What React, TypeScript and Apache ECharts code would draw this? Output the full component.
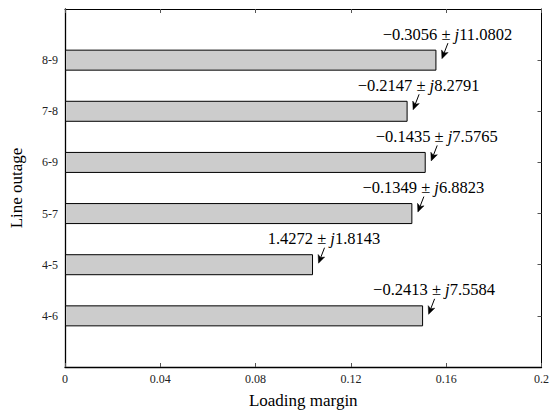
import React, { useEffect, useRef } from "react";
import * as echarts from "echarts";

// categories from bottom to top (empty slots at both ends)
const categories = ["", "4-6", "4-5", "5-7", "6-9", "7-8", "8-9", ""];
const margins = [null, 0.1503, 0.1041, 0.1458, 0.1514, 0.1438, 0.1559, null];
const realParts = ["", "−0.2413", "1.4272", "−0.1349", "−0.1435", "−0.2147", "−0.3056", ""];
const imagParts = ["", "7.5584", "1.8143", "6.8823", "7.5765", "8.2791", "11.0802", ""];
const xTicks = { min: 0, max: 0.2, interval: 0.04 };

const FONT = "Liberation Serif";

export default function App() {
  const ref = useRef<HTMLDivElement>(null);
  useEffect(() => {
    document.body.style.margin = "0";
    const chart = echarts.init(ref.current!, null, { renderer: "svg" });
    const barData = margins.map((v) =>
      v == null ? "-" : { value: v, label: { show: true } }
    );
    const arrowData: number[][] = [];
    margins.forEach((v, i) => {
      if (v != null) arrowData.push([v, i]);
    });
    const option: any = {
      animation: false,
      textStyle: { fontFamily: FONT },
      grid: { left: 64, right: 9, top: 9, bottom: 40, containLabel: false },
      xAxis: [
        {
          type: "value",
          position: "bottom",
          min: xTicks.min,
          max: xTicks.max,
          interval: xTicks.interval,
          name: "Loading margin",
          nameLocation: "middle",
          nameGap: 25,
          nameTextStyle: { fontFamily: FONT, fontSize: 17, color: "#000", verticalAlign: "top" },
          axisLine: { show: true, onZero: false, lineStyle: { color: "#000", width: 1.3 } },
          axisTick: { show: true, inside: true, length: 4, lineStyle: { color: "#555" } },
          axisLabel: {
            fontFamily: FONT,
            fontSize: 12,
            color: "#222",
            margin: 6,
            formatter: (v: number) => String(+v.toFixed(2)),
          },
          splitLine: { show: false },
        },
        {
          type: "value",
          position: "top",
          min: xTicks.min,
          max: xTicks.max,
          interval: xTicks.interval,
          axisLine: { show: true, onZero: false, lineStyle: { color: "#000", width: 1 } },
          axisTick: { show: true, inside: true, length: 4, lineStyle: { color: "#555" } },
          axisLabel: { show: false },
          splitLine: { show: false },
        },
      ],
      yAxis: [
        {
          type: "category",
          position: "left",
          data: categories,
          boundaryGap: false,
          name: "Line outage",
          nameLocation: "middle",
          nameRotate: 90,
          nameGap: 40,
          nameTextStyle: { fontFamily: FONT, fontSize: 17, color: "#000" },
          axisLine: { show: true, onZero: false, lineStyle: { color: "#000", width: 1.3 } },
          axisTick: {
            show: true,
            inside: true,
            length: 4,
            interval: (i: number) => i >= 1 && i <= 6,
            lineStyle: { color: "#555" },
          },
          axisLabel: {
            fontFamily: FONT,
            fontSize: 12,
            color: "#222",
            margin: 7,
            interval: 0,
          },
          splitLine: { show: false },
        },
        {
          type: "category",
          position: "right",
          data: categories,
          boundaryGap: false,
          axisLine: { show: true, onZero: false, lineStyle: { color: "#000", width: 1 } },
          axisTick: {
            show: true,
            inside: true,
            length: 4,
            interval: (i: number) => i >= 1 && i <= 6,
            lineStyle: { color: "#555" },
          },
          axisLabel: { show: false },
          splitLine: { show: false },
        },
      ],
      series: [
        {
          type: "bar",
          xAxisIndex: 0,
          yAxisIndex: 0,
          barWidth: 21,
          data: barData,
          itemStyle: { color: "#cccccc", borderColor: "#000", borderWidth: 1 },
          label: {
            show: false,
            position: ["100%", "50%"],
            offset: [11, -26],
            align: "center",
            verticalAlign: "middle",
            fontFamily: FONT,
            fontSize: 16.5,
            color: "#000",
            formatter: (p: any) =>
              `${realParts[p.dataIndex]} ± {j|j}${imagParts[p.dataIndex]}`,
            rich: {
              j: { fontFamily: FONT, fontSize: 16.5, fontStyle: "italic", color: "#000" },
            },
          },
          z: 3,
        },
        {
          type: "custom",
          xAxisIndex: 0,
          yAxisIndex: 0,
          data: arrowData,
          z: 4,
          renderItem: (params: any, api: any) => {
            const p = api.coord([api.value(0), api.value(1)]);
            const S = [p[0] + 11.5, p[1] - 17];
            const T = [p[0] + 5.5, p[1] - 1.5];
            const dx = T[0] - S[0];
            const dy = T[1] - S[1];
            const L = Math.sqrt(dx * dx + dy * dy);
            const ux = dx / L;
            const uy = dy / L;
            const nx = -uy;
            const ny = ux;
            const B = [T[0] - 8 * ux, T[1] - 8 * uy];
            const N = [T[0] - 6 * ux, T[1] - 6 * uy];
            return {
              type: "group",
              children: [
                {
                  type: "line",
                  shape: { x1: S[0], y1: S[1], x2: N[0], y2: N[1] },
                  style: { stroke: "#000", lineWidth: 1 },
                },
                {
                  type: "polygon",
                  shape: {
                    points: [
                      T,
                      [B[0] + 3.5 * nx, B[1] + 3.5 * ny],
                      N,
                      [B[0] - 3.5 * nx, B[1] - 3.5 * ny],
                    ],
                  },
                  style: { fill: "#000", stroke: "#000", lineWidth: 0.5 },
                },
              ],
            };
          },
        },
      ],
    };
    chart.setOption(option);
    return () => chart.dispose();
  }, []);
  return <div ref={ref} style={{ width: 552, height: 414 }} />;
}
